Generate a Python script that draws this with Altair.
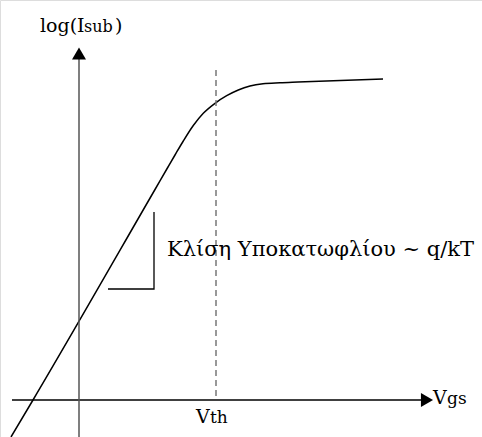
import altair as alt
import pandas as pd

# Schematic sub-threshold characteristic: log(Isub) against Vgs
vgs = [-6.8, -4.6, 7.6, 8.9, 9.6, 10.43, 11.43, 12.43, 13.6, 14.77, 15.93, 17.1, 18.4, 20.1, 21.9, 30.4]
log_isub = [-3.7, 0.0, 21.05, 23.3, 24.5, 25.9, 27.45, 28.67, 29.67, 30.43, 31.0, 31.4, 31.63, 31.73, 31.8, 32.1]

vth = 13.7
x_domain = [-7.9, 40.3]
y_domain = [-3.7, 40.0]

# Hand-drawn axes with arrowheads
h_axis_x = [-6.7, 34.2]
v_axis_y = [-3.7, 34.2]
arrow_up = (0.0, 34.65)
arrow_right = (34.8, 0.0)

# Dashed threshold marker
vth_line_y = [0.4, 33.0]

# Slope triangle next to the linear part
tri_x = [2.9, 7.5, 7.5]
tri_y = [11.1, 11.1, 18.8]

FONT = "DejaVu Serif"
slope_label = "Κλίση Υποκατωφλίου ~ q/kT"

# text pieces: (text, x, y, size)
labels = [
    ("log(I", -3.9, 36.8, 19),
    ("sub", 0.5, 36.8, 16),
    (")", 3.6, 36.8, 19),
    ("V", 35.4, -0.4, 19),
    ("gs", 36.8, -0.4, 17),
    ("V", 11.7, -2.3, 19),
    ("th", 13.1, -2.3, 17),
    (slope_label, 8.8, 14.4, 21),
]

X = lambda f="x": alt.X(f"{f}:Q", scale=alt.Scale(domain=x_domain, nice=False, zero=False), axis=None)
Y = lambda f="y": alt.Y(f"{f}:Q", scale=alt.Scale(domain=y_domain, nice=False, zero=False), axis=None)

curve = alt.Chart(pd.DataFrame({"x": vgs, "y": log_isub, "o": range(len(vgs))})).mark_line(
    color="black", strokeWidth=1.5, interpolate="monotone", clip=True
).encode(x=X(), y=Y(), order="o:Q")

h_axis = alt.Chart(pd.DataFrame({"x": [h_axis_x[0]], "x2": [h_axis_x[1]], "y": [0.0]})).mark_rule(
    color="black", strokeWidth=1.5
).encode(x=X(), x2="x2:Q", y=Y())

v_axis = alt.Chart(pd.DataFrame({"x": [0.0], "y": [v_axis_y[0]], "y2": [v_axis_y[1]]})).mark_rule(
    color="#555555", strokeWidth=1.5
).encode(x=X(), y=Y(), y2="y2:Q")

heads = alt.Chart(pd.DataFrame({
    "x": [arrow_up[0], arrow_right[0]],
    "y": [arrow_up[1], arrow_right[1]],
    "shape": ["triangle-up", "triangle-right"],
})).mark_point(filled=True, color="black", opacity=1, size=196).encode(
    x=X(), y=Y(), shape=alt.Shape("shape:N", scale=None)
)

vth_rule = alt.Chart(pd.DataFrame({"x": [vth], "y": [vth_line_y[0]], "y2": [vth_line_y[1]]})).mark_rule(
    color="#777777", strokeWidth=1.5, strokeDash=[6, 4]
).encode(x=X(), y=Y(), y2="y2:Q")

triangle = alt.Chart(pd.DataFrame({"x": tri_x, "y": tri_y, "o": range(3)})).mark_line(
    color="black", strokeWidth=1.3
).encode(x=X(), y=Y(), order="o:Q")

text_layers = []
for t, lx, ly, size in labels:
    text_layers.append(
        alt.Chart(pd.DataFrame({"x": [lx], "y": [ly], "t": [t]})).mark_text(
            font=FONT, fontSize=size, align="left", baseline="alphabetic", color="black"
        ).encode(x=X(), y=Y(), text="t:N")
    )

chart = alt.layer(curve, h_axis, v_axis, heads, vth_rule, triangle, *text_layers).properties(
    width=482, height=437, padding=0, autosize=alt.AutoSizeParams(type="none")
).configure_view(stroke=None).configure(background="white")

chart.save("out.html", embed_options={"renderer": "svg", "actions": False})
